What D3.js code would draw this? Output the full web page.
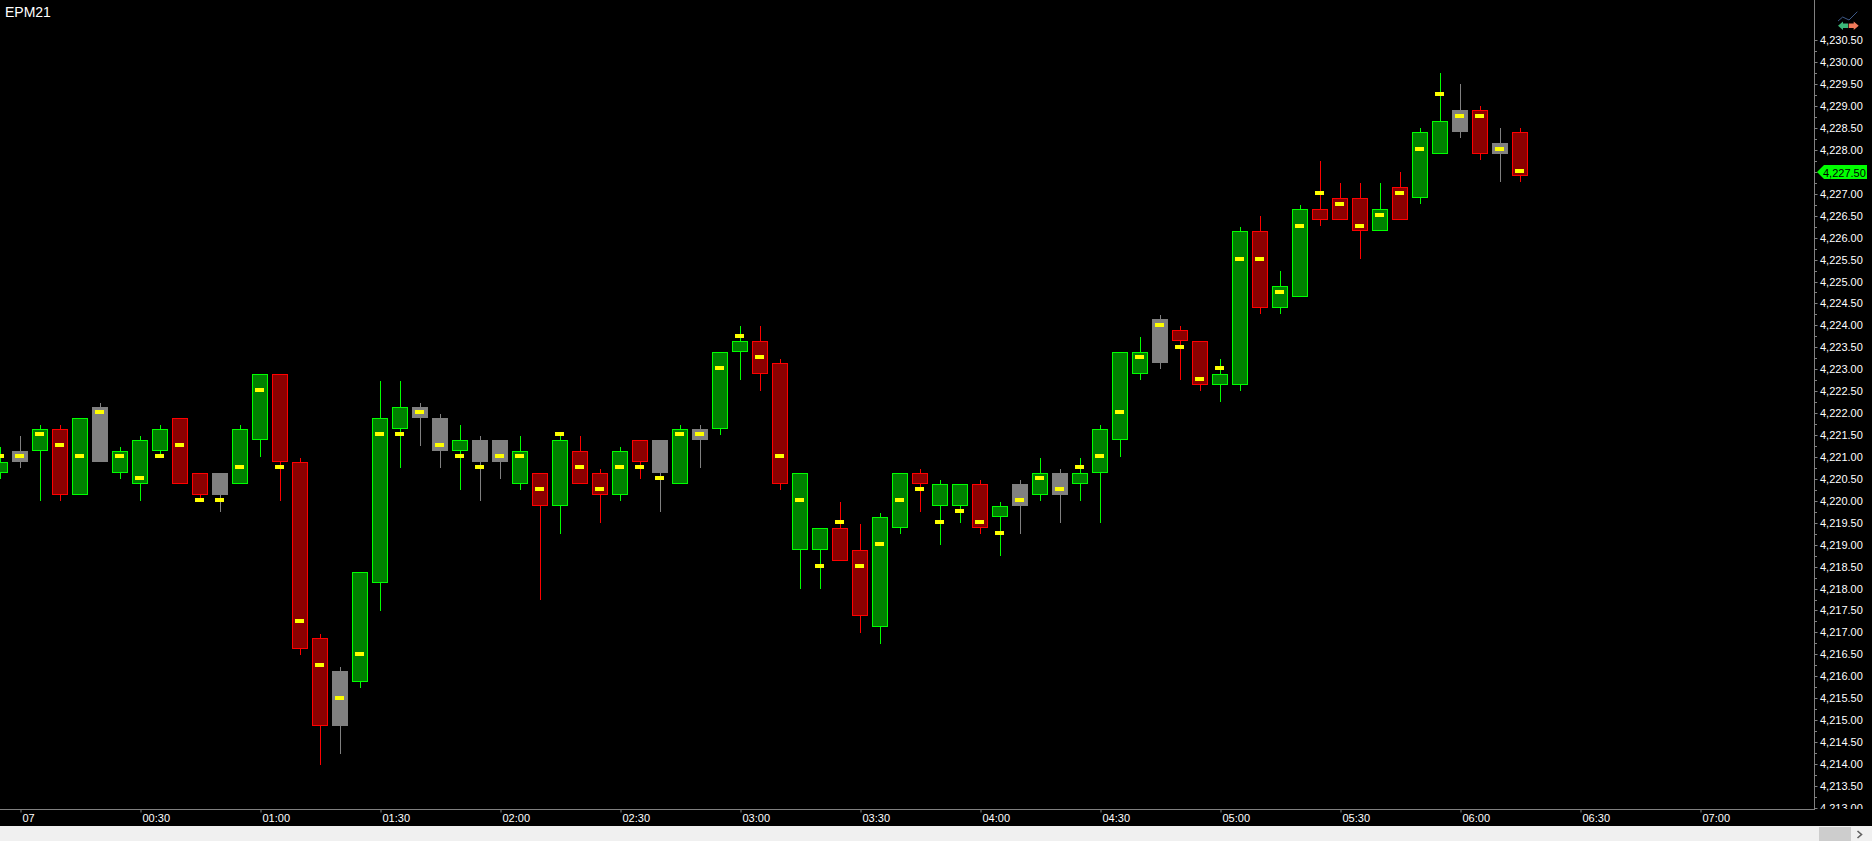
<!DOCTYPE html>
<html><head><meta charset="utf-8">
<script src="https://cdn.jsdelivr.net/npm/d3@7/dist/d3.min.js"></script>
<style>
html,body{margin:0;padding:0;background:#000;overflow:hidden}
svg{display:block}
text{font-family:"Liberation Sans",Arial,sans-serif;font-size:11px;fill:#fff}
</style></head><body>
<div id="chart"></div>
<script>
const instrument = "EPM21";
const lastPrice = 4227.5;
// 5-minute bars: index 0 is the bar at the "07" (00:00) tick
const barColor = [
 "g","n","g","r","g","n","g","g","g","r",
 "r","n","g","g","r","r","r","n","g","g",
 "g","n","n","g","n","n","g","r","g","r",
 "r","g","r","n","g","n","g","g","r","r",
 "g","g","r","r","g","g","r","g","g","r",
 "g","n","g","n","g","g","g","g","n","r",
 "r","g","g","r","g","g","r","r","r","g",
 "r","g","g","n","r","n","r"];
const bodyTop = [
 4220.875,4221.125,4221.625,4221.625,4221.875,4222.125,4221.125,4221.375,4221.625,4221.875,
 4220.625,4220.625,4221.625,4222.875,4222.875,4220.875,4216.875,4216.125,4218.375,4221.875,
 4222.125,4222.125,4221.875,4221.375,4221.375,4221.375,4221.125,4220.625,4221.375,4221.125,
 4220.625,4221.125,4221.375,4221.375,4221.625,4221.625,4223.375,4223.625,4223.625,4223.125,
 4220.625,4219.375,4219.375,4218.875,4219.625,4220.625,4220.625,4220.375,4220.375,4220.375,
 4219.875,4220.375,4220.625,4220.625,4220.625,4221.625,4223.375,4223.375,4224.125,4223.875,
 4223.625,4222.875,4226.125,4226.125,4224.875,4226.625,4226.625,4226.875,4226.875,4226.625,
 4227.125,4228.375,4228.625,4228.875,4228.875,4228.125,4228.375];
const bodyBottom = [
 4220.625,4220.875,4221.125,4220.125,4220.125,4220.875,4220.625,4220.375,4221.125,4220.375,
 4220.125,4220.125,4220.375,4221.375,4220.875,4216.625,4214.875,4214.875,4215.875,4218.125,
 4221.625,4221.875,4221.125,4221.125,4220.875,4220.875,4220.375,4219.875,4219.875,4220.375,
 4220.125,4220.125,4220.875,4220.625,4220.375,4221.375,4221.625,4223.375,4222.875,4220.375,
 4218.875,4218.875,4218.625,4217.375,4217.125,4219.375,4220.375,4219.875,4219.875,4219.375,
 4219.625,4219.875,4220.125,4220.125,4220.375,4220.625,4221.375,4222.875,4223.125,4223.625,
 4222.625,4222.625,4222.625,4224.375,4224.375,4224.625,4226.375,4226.375,4226.125,4226.125,
 4226.375,4226.875,4227.875,4228.375,4227.875,4227.875,4227.375];
const highs = [
 4221.22,4221.47,4221.72,4221.72,4221.875,4222.22,4221.22,4221.47,4221.72,4221.875,
 4220.625,4220.625,4221.72,4222.875,4222.875,4220.97,4216.97,4216.22,4218.375,4222.72,
 4222.72,4222.22,4221.97,4221.72,4221.47,4221.375,4221.47,4220.625,4221.5,4221.47,
 4220.72,4221.22,4221.375,4221.375,4221.72,4221.72,4223.375,4223.97,4223.97,4223.22,
 4220.625,4219.375,4219.97,4219.47,4219.72,4220.625,4220.72,4220.47,4220.375,4220.47,
 4219.97,4220.47,4220.97,4220.72,4220.97,4221.72,4223.375,4223.72,4224.22,4223.97,
 4223.625,4223.22,4226.22,4226.47,4225.22,4226.72,4227.72,4227.22,4227.22,4227.22,
 4227.47,4228.47,4229.72,4229.47,4228.97,4228.47,4228.47];
const lows = [
 4220.5,4220.75,4220.0,4220.0,4220.125,4220.875,4220.5,4220.0,4221.0,4220.375,
 4220.0,4219.75,4220.375,4221.0,4220.0,4216.5,4214.0,4214.25,4215.75,4217.5,
 4220.75,4221.25,4220.75,4220.25,4220.0,4220.5,4220.25,4217.75,4219.25,4220.375,
 4219.5,4220.0,4220.5,4219.75,4220.375,4220.75,4221.5,4222.75,4222.5,4220.25,
 4218.0,4218.0,4218.625,4217.0,4216.75,4219.25,4219.75,4219.0,4219.5,4219.25,
 4218.75,4219.25,4220.0,4219.5,4220.0,4219.5,4221.0,4222.75,4223.0,4222.75,
 4222.5,4222.25,4222.5,4224.25,4224.25,4224.625,4226.25,4226.375,4225.5,4226.125,
 4226.375,4226.75,4227.875,4228.25,4227.75,4227.25,4227.25];
const marks = [
 4221.0,4221.0,4221.5,4221.25,4221.0,4222.0,4221.0,4220.5,4221.0,4221.25,
 4220.0,4220.0,4220.75,4222.5,4220.75,4217.25,4216.25,4215.5,4216.5,4221.5,
 4221.5,4222.0,4221.25,4221.0,4220.75,4221.0,4221.0,4220.25,4221.5,4220.75,
 4220.25,4220.75,4220.75,4220.5,4221.5,4221.5,4223.0,4223.75,4223.25,4221.0,
 4220.0,4218.5,4219.5,4218.5,4219.0,4220.0,4220.25,4219.5,4219.75,4219.5,
 4219.25,4220.0,4220.5,4220.25,4220.75,4221.0,4222.0,4223.25,4224.0,4223.5,
 4222.75,4223.0,4225.5,4225.5,4224.75,4226.25,4227.0,4226.75,4226.25,4226.5,
 4227.0,4228.0,4229.25,4228.75,4228.75,4228.0,4227.5];
const timeLabels = ["07","00:30","01:00","01:30","02:00","02:30","03:00","03:30","04:00","04:30","05:00","05:30","06:00","06:30","07:00"];

const W = 1872, H = 841, axisX = 1814, axisY = 809, stripY = 826;
const fills = {g:"#008000", r:"#8b0000", n:"#808080"};
const strokes = {g:"#00ff00", r:"#ff0000", n:"#808080"};

const svg = d3.select("#chart").append("svg").attr("width",W).attr("height",H);
svg.append("rect").attr("width",W).attr("height",H).attr("fill","#000");

// price scale for the candles
const y = d3.scaleLinear().domain([4230.5,4213]).range([39,808.5]);
// price scale for the axis labels
const yAxisScale = d3.scaleLinear().domain([4230.5,4214]).range([40.3,764]);
const x = d3.scaleLinear().domain([0,84]).range([0,1680]);
const ry = v => Math.round(y(v));

svg.append("defs").append("clipPath").attr("id","plot").append("rect")
   .attr("x",0).attr("y",0).attr("width",W).attr("height",axisY);

const bars = d3.range(barColor.length);
const plot = svg.append("g");

plot.selectAll("line.wick").data(bars).join("line").attr("class","wick")
  .attr("x1",i=>x(i)+0.5).attr("x2",i=>x(i)+0.5)
  .attr("y1",i=>ry(highs[i])).attr("y2",i=>ry(lows[i]))
  .attr("stroke",i=>strokes[barColor[i]]).attr("stroke-width",1);
plot.selectAll("rect.body").data(bars).join("rect").attr("class","body")
  .attr("x",i=>x(i)-7.5).attr("width",15)
  .attr("y",i=>ry(bodyTop[i])+0.5)
  .attr("height",i=>ry(bodyBottom[i])-ry(bodyTop[i])-1)
  .attr("fill",i=>fills[barColor[i]]).attr("stroke",i=>strokes[barColor[i]]).attr("stroke-width",1);
plot.selectAll("rect.mark").data(bars).join("rect").attr("class","mark")
  .attr("x",i=>x(i)-5).attr("width",9)
  .attr("y",i=>Math.round(y(marks[i])-0.3)-2).attr("height",4)
  .attr("fill","#ffff00");

const grey = "#808080";
const yTickVals = d3.range(0,36).map(k=>4230.5-k*0.5);
const yMinor = d3.range(0,35).map(k=>4230.25-k*0.5);
const fmt = d3.format(",.2f");
const yAxisG = svg.append("g").attr("clip-path","url(#plot)");
const yAxis = d3.axisRight(yAxisScale).tickValues(yTickVals).tickFormat(fmt).tickSize(3).tickPadding(3);
yAxisG.append("g").attr("transform",`translate(${axisX+0.5},0)`).call(yAxis).call(g=>{
  g.select(".domain").remove();
  g.selectAll(".tick").attr("transform",d=>`translate(0,${Math.round(yAxisScale(d))})`);
  g.selectAll("line").attr("stroke",grey).attr("y1",0.5).attr("y2",0.5);
  g.selectAll("text").attr("fill","#fff").style("font-size","11px").attr("dy",null).attr("x",5.5).attr("y",4);
});
yAxisG.selectAll("line.minor").data(yMinor).join("line").attr("class","minor")
  .attr("x1",axisX+1).attr("x2",axisX+3)
  .attr("y1",d=>Math.round(yAxisScale(d))+0.5).attr("y2",d=>Math.round(yAxisScale(d))+0.5).attr("stroke",grey);
svg.append("line").attr("x1",axisX+0.5).attr("x2",axisX+0.5).attr("y1",0).attr("y2",axisY+1).attr("stroke",grey);

const tx = d3.scalePoint().domain(timeLabels).range([20,1700]);
const xAxis = d3.axisBottom(tx).tickSize(3).tickPadding(3);
svg.append("g").attr("transform",`translate(0.5,${axisY+0.5})`).call(xAxis).call(g=>{
  g.select(".domain").remove();
  g.selectAll("line").attr("stroke",grey);
  g.selectAll("text").attr("fill","#fff").style("font-size","11px").attr("text-anchor","start").attr("x",1.5).attr("y",5).attr("dy","0.71em");
});
svg.append("line").attr("x1",0).attr("x2",axisX).attr("y1",axisY+0.5).attr("y2",axisY+0.5).attr("stroke",grey);

svg.append("text").attr("x",5).attr("y",17).style("font-size","14px").style("fill","#fff").text(instrument);

const ly = yAxisScale(lastPrice);
svg.append("path").attr("d",d3.line()([[1817,ly],[1824,ly-7],[1867,ly-7],[1867,ly+7],[1824,ly+7]])+"Z").attr("fill","#00ff00");
svg.append("text").attr("x",1823).attr("y",Math.round(ly)+5).style("fill","#000").style("font-size","11px").text(fmt(lastPrice));

svg.append("rect").attr("x",0).attr("y",stripY).attr("width",W).attr("height",H-stripY).attr("fill","#f0f0f0");
svg.append("rect").attr("x",1819).attr("y",827).attr("width",32).attr("height",14).attr("fill","#cdcdcd");
svg.append("path").attr("d","M1857.5 831 L1861.5 834.5 L1857.5 838").attr("fill","none").attr("stroke","#606060").attr("stroke-width",1.6);

const ic = svg.append("g");
ic.append("path").attr("d","M1838 21 L1842.7 17 L1849 20 L1857.3 11.7").attr("fill","none").attr("stroke","#3e5a8a").attr("stroke-width",1);
ic.append("path").attr("d","M1838 25.7 L1843 21.5 V23.5 H1848 V28 H1843 V30 Z").attr("fill","#3cb878");
ic.append("path").attr("d","M1858.7 25.7 L1853.7 21.5 V23.5 H1848.7 V28 H1853.7 V30 Z").attr("fill","#f07a5a");
</script>
</body></html>
